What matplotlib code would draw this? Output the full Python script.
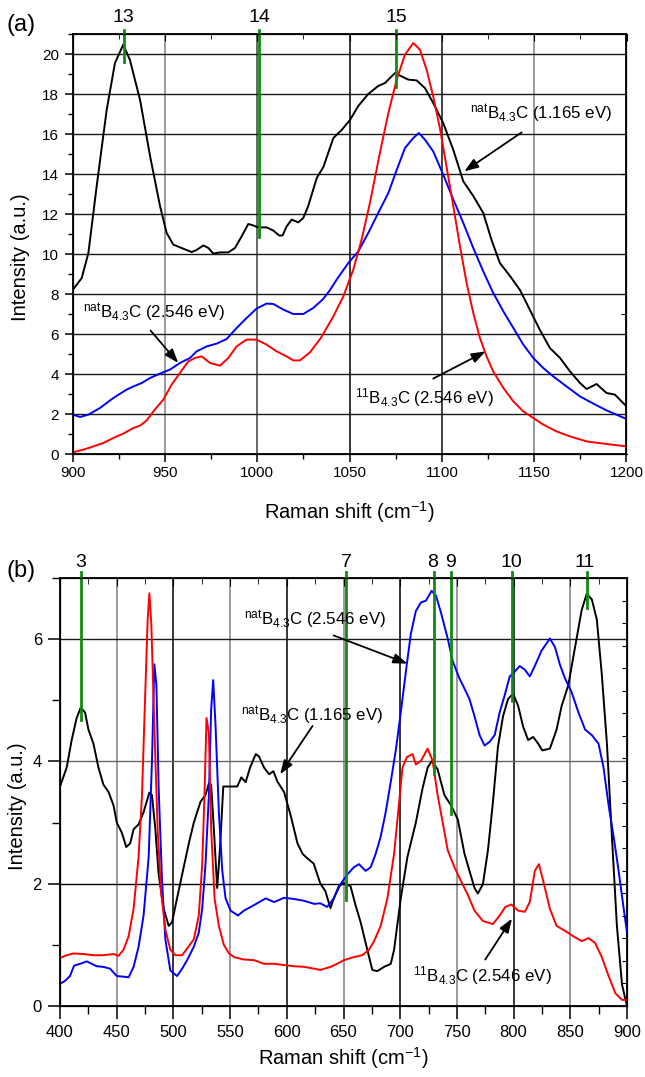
import matplotlib
matplotlib.use("Agg")
import matplotlib.pyplot as plt
from matplotlib.ticker import MultipleLocator, FixedLocator

plt.rcParams['font.family'] = ['Liberation Sans', 'DejaVu Sans']
plt.rcParams['mathtext.fontset'] = 'custom'
plt.rcParams['mathtext.rm'] = 'Liberation Sans'
plt.rcParams['mathtext.it'] = 'Liberation Sans'
plt.rcParams['mathtext.default'] = 'regular'

# ---------------- Panel (a) data ----------------
a_black_x = [900, 904.9, 908.5, 913, 918.4, 922.9, 927.4, 931, 936.5, 941.9, 947.3, 950.9, 954.5, 959,
             964.4, 967.1, 970.8, 973.5, 976.2, 979.8, 984.3, 987.9, 991.5, 995.1, 997.8, 1000.5, 1005,
             1008.7, 1011.9, 1013.7, 1015.9, 1018.6, 1022.2, 1024.9, 1027.6, 1032.2, 1035.8, 1041.2,
             1045.7, 1050.2, 1054.7, 1060.1, 1065.5, 1069.2, 1072.2, 1074.6, 1077.3, 1081.8, 1086.3,
             1090.8, 1095.3, 1100.7, 1106.2, 1111.6, 1117, 1122.4, 1126.9, 1131.4, 1136.9, 1142.3,
             1147.7, 1153.1, 1158.5, 1164, 1169.4, 1174.8, 1178.4, 1183.8, 1189.2, 1193.7, 1200]
a_black_y = [8.2, 8.8, 10.05, 13.4, 17.2, 19.55, 20.47, 19.7, 17.7, 14.9, 12.4, 11.05, 10.47, 10.3,
             10.1, 10.2, 10.43, 10.3, 10.02, 10.08, 10.08, 10.3, 10.88, 11.5, 11.43, 11.33, 11.33,
             11.17, 10.92, 10.93, 11.38, 11.72, 11.58, 11.8, 12.4, 13.8, 14.35, 15.8,
             16.2, 16.7, 17.4, 18.0, 18.4, 18.55, 18.83, 19.05, 18.92, 18.72, 18.68,
             18.3, 17.55, 16.55, 15.2, 13.63, 12.9, 12.05, 10.7, 9.55, 8.9, 8.2,
             7.2, 6.2, 5.3, 4.8, 4.13, 3.55, 3.25, 3.5, 3.05, 2.97, 2.38]

a_blue_x = [900, 904, 908.5, 914.8, 922, 929.2, 932.9, 937.4, 941.9, 947.3, 952.7, 958.1, 963.5, 967.1,
            972.6, 978, 983.4, 988.8, 994.2, 999.6, 1005, 1008.7, 1014.1, 1019.5, 1024.9, 1030.3,
            1035.7, 1039.4, 1043, 1049.3, 1054.7, 1060.1, 1065.5, 1071, 1075.5, 1080, 1084.5,
            1087.5, 1090.8, 1095.3, 1100.7, 1106.2, 1111.6, 1117, 1122.4, 1127.8, 1133.3, 1138.7,
            1144.1, 1149.5, 1154.9, 1160.3, 1167.5, 1174.8, 1182, 1189.2, 1200]
a_blue_y = [1.97, 1.85, 1.97, 2.3, 2.8, 3.22, 3.38, 3.55, 3.8, 4.02, 4.22, 4.55, 4.8, 5.13,
            5.38, 5.52, 5.75, 6.3, 6.8, 7.27, 7.52, 7.5, 7.22, 7.0, 7.0, 7.3,
            7.75, 8.2, 8.72, 9.55, 10.13, 11.05, 12.05, 13.05, 14.2, 15.3, 15.8,
            16.05, 15.72, 15.13, 13.97, 12.72, 11.55, 10.3, 9.13, 8.05, 7.13, 6.3,
            5.47, 4.8, 4.3, 3.88, 3.38, 2.88, 2.52, 2.18, 1.75]

a_red_x = [900, 905.8, 911.2, 916.6, 922, 927.4, 932.9, 936.5, 940.1, 943.7, 949.1, 953.6, 958.1,
           962.6, 966.2, 969.9, 974.4, 979.8, 984.3, 988.8, 994.2, 999.6, 1005, 1010.5, 1015.9,
           1019.5, 1023.1, 1028.5, 1034.4, 1041.2, 1046.6, 1052, 1056.5, 1061, 1066.4, 1071,
           1075.5, 1080, 1084.5, 1088.1, 1091.7, 1095.3, 1098.9, 1102.5, 1106.2, 1109.8, 1113.4,
           1117, 1120.6, 1124.2, 1127.8, 1133.3, 1138.7, 1144.1, 1149.5, 1154.9, 1162.1, 1169.4,
           1178.4, 1189.2, 1200]
a_red_y = [0.08, 0.22, 0.38, 0.55, 0.8, 1.02, 1.3, 1.42, 1.68, 2.13, 2.72, 3.47, 4.05,
           4.63, 4.8, 4.88, 4.55, 4.42, 4.8, 5.38, 5.72, 5.72, 5.47, 5.13, 4.88,
           4.68, 4.68, 5.08, 5.8, 6.88, 7.88, 9.22, 10.72, 12.55, 15.05, 17.05,
           18.72, 19.97, 20.55, 20.22, 19.22, 17.88, 16.3, 14.38, 12.38, 10.38, 8.55,
           7.05, 5.8, 4.88, 4.13, 3.3, 2.63, 2.13, 1.8, 1.47, 1.13, 0.88,
           0.63, 0.5, 0.38]

a_peak_labels = ['13', '14', '15']
a_peak_x = [927.6, 1000.9, 1075.1]
a_peak_low = [19.6, 10.85, 18.35]

# ---------------- Panel (b) data ----------------
b_black_x = [400.6, 405.9, 410.3, 414.7, 418.3, 422.1, 425.1, 429.5, 433.9, 438.3, 442.8, 447.2, 450.1,
             454.6, 458.4, 461.9, 464.9, 469.3, 473.7, 478.8, 481.1, 484.1, 487, 491.4, 495.9, 498.8,
             503.2, 507.7, 513.6, 518, 523.9, 528.3, 531.3, 533.3, 535.7, 538.6, 541, 544, 547.5,
             556.3, 559.9, 563.7, 567.6, 572.6, 575.5, 579.9, 584.4, 588.2, 591.7, 597.6, 603.5,
             609.4, 613.9, 617.8, 623.7, 629.6, 634, 638.5, 641.4, 645.9, 650.3, 656.2, 660.6, 665.1,
             671, 675.4, 679.8, 685.8, 691.7, 694.6, 700.5, 706.4, 713.8, 719.7, 724.2, 728, 733,
             739, 744.9, 750.8, 756.7, 761.1, 765.5, 768.5, 772.9, 777.4, 781.8, 786.2, 790.7, 795.1,
             799.5, 804, 808.4, 812.8, 817.3, 821.7, 825.3, 832, 837.9, 842.4, 848.3, 854.2, 860.1,
             864.5, 869, 873.4, 877.8, 882.3, 886.7, 891.1, 895.6, 900]
b_black_y = [3.62, 3.9, 4.35, 4.71, 4.88, 4.8, 4.52, 4.29, 3.9, 3.62, 3.5, 3.28, 3.0,
             2.83, 2.6, 2.66, 2.89, 2.97, 3.17, 3.49, 3.45, 2.89, 2.15, 1.59, 1.31, 1.37,
             1.76, 2.15, 2.66, 3.0, 3.34, 3.45, 3.64, 3.62, 2.89, 1.93, 2.55, 3.59, 3.59,
             3.59, 3.74, 3.66, 3.9, 4.12, 4.08, 3.9, 3.79, 3.84, 3.67, 3.5, 3.11,
             2.66, 2.49, 2.42, 2.33, 2.0, 1.88, 1.6, 1.76, 1.96, 2.01, 1.96, 1.65, 1.37,
             0.92, 0.59, 0.57, 0.64, 0.69, 0.92, 1.76, 2.44, 3.0, 3.56, 3.9, 4.01, 3.87,
             3.45, 3.28, 3.05, 2.49, 2.21, 1.93, 1.84, 1.99, 2.55, 3.34, 4.24, 4.74, 5.02,
             5.11, 4.91, 4.57, 4.35, 4.4, 4.29, 4.18, 4.21, 4.52, 4.91, 5.25, 5.87, 6.48,
             6.74, 6.65, 6.32, 5.42, 4.29, 2.77, 1.31, 0.35, 0.0]

b_blue_x = [400.6, 404.4, 408.8, 412.4, 417.7, 423.6, 428, 432.4, 438.3, 444.2, 450.1, 456, 460.5,
            464.9, 469.3, 473.7, 478.2, 481.1, 483.2, 485, 487, 490, 492.9, 497.3, 503.2, 507.7,
            512.1, 518, 522.4, 525.4, 528.3, 531.3, 533.3, 535.1, 537.2, 540.1, 543.1, 546, 550.4,
            556.9, 562.2, 571.1, 581.4, 588.8, 597.6, 606.5, 615.3, 624.2, 629.6, 635.5, 641.4,
            647.3, 653.3, 659.2, 663.6, 669.5, 674, 678.4, 682.8, 687.2, 691.7, 696.1, 700.5, 705,
            709.4, 713.8, 718.3, 722.7, 727.7, 731.6, 736, 741.9, 746.3, 752.2, 756.7, 761.1, 765.5,
            770, 774.4, 778.8, 783.3, 787.7, 792.1, 796.6, 801, 805.4, 809.9, 814.3, 818.7, 824.6,
            832, 836.5, 840.9, 845.3, 851.2, 857.2, 863.1, 869, 874.9, 879.3, 883.8, 888.2, 892.6,
            897.1, 900]
b_blue_y = [0.37, 0.41, 0.49, 0.66, 0.69, 0.73, 0.69, 0.65, 0.64, 0.61, 0.49, 0.48, 0.47,
            0.64, 0.97, 1.48, 2.44, 4.01, 5.59, 5.25, 3.56, 2.04, 1.09, 0.58, 0.49, 0.61,
            0.75, 0.97, 1.2, 1.59, 2.32, 3.45, 4.85, 5.33, 4.57, 3.17, 2.21, 1.76, 1.56,
            1.48, 1.56, 1.65, 1.76, 1.7, 1.77, 1.75, 1.72, 1.67, 1.68, 1.62, 1.76,
            1.99, 2.15, 2.27, 2.32, 2.21, 2.27, 2.49, 2.77, 3.17, 3.67, 4.18, 4.8, 5.47,
            6.09, 6.46, 6.6, 6.63, 6.79, 6.71, 6.43, 6.01, 5.64, 5.36, 5.19, 5.02, 4.74,
            4.43, 4.26, 4.32, 4.43, 4.8, 5.08, 5.39, 5.47, 5.56, 5.5, 5.39, 5.56, 5.81,
            6.01, 5.87, 5.58, 5.36, 5.13, 4.8, 4.52, 4.43, 4.29, 3.9, 3.28, 2.77, 2.21,
            1.59, 1.2]

b_red_x = [400.6, 405.9, 411.8, 420.6, 429.5, 438.3, 447.2, 451.6, 456, 460.5, 464.9, 469.3, 472.3,
           475.2, 477.3, 478.8, 480.5, 483.2, 486.1, 489.1, 492.9, 497.3, 501.8, 507.7, 512.1, 518,
           522.4, 525.4, 527.4, 529.2, 531.3, 533.3, 536.3, 540.1, 544.5, 549, 553.4, 562.2, 571.1,
           579.9, 588.8, 597.6, 606.5, 615.3, 624.2, 629.6, 638.5, 644.4, 650.3, 659.2, 666.5,
           672.5, 676.9, 682.8, 688.7, 694.6, 699.1, 702, 705.9, 710.9, 713.8, 718.3, 724.2, 728.6,
           733, 737.5, 741.9, 747.8, 753.7, 759.6, 765.5, 772.9, 781.8, 787.7, 792.7, 798, 804,
           809.9, 814.3, 818.7, 822.3, 826.2, 832, 837.9, 845.3, 852.7, 860.1, 866, 871.9, 877.8,
           883.8, 889.7, 895.6, 900]
b_red_y = [0.79, 0.83, 0.86, 0.85, 0.83, 0.83, 0.85, 0.82, 0.92, 1.14, 1.59, 2.44, 3.45,
           5.13, 6.32, 6.75, 6.26, 4.57, 2.89, 1.87, 1.25, 0.92, 0.83, 0.83, 0.94, 1.09,
           1.48, 2.32, 3.45, 4.71, 4.46, 2.89, 1.76, 1.31, 1.0, 0.86, 0.8, 0.76, 0.75,
           0.69, 0.69, 0.67, 0.65, 0.64, 0.61, 0.59, 0.64, 0.69, 0.75, 0.8, 0.83,
           0.92, 1.06, 1.31, 1.76, 2.49, 3.34, 3.9, 4.07, 4.12, 3.95, 4.01, 4.21, 4.01,
           3.45, 3.0, 2.55, 2.27, 2.04, 1.82, 1.56, 1.39, 1.34, 1.48, 1.62, 1.66, 1.56,
           1.54, 1.7, 2.21, 2.32, 2.04, 1.59, 1.31, 1.23, 1.14, 1.06, 1.11, 1.03, 0.8,
           0.49, 0.21, 0.1, 0.1]

b_peak_labels = ['3', '7', '8', '9', '10', '11']
b_peak_x = [418.3, 652.4, 730.1, 744.6, 798.3, 865.1]
b_peak_low = [4.68, 1.73, 3.79, 3.14, 4.99, 6.51]
b_label_x = [418.3, 652.4, 728.8, 744.3, 797.7, 862.5]

lab_nat_low = r'$^{nat}$B$_{4.3}$C (1.165 eV)'
lab_nat_high = r'$^{nat}$B$_{4.3}$C (2.546 eV)'
lab_11_high = r'$^{11}$B$_{4.3}$C (2.546 eV)'

GREEN = '#138a13'
LW = 1.4

fig = plt.figure(figsize=(6.45, 10.77), dpi=100)
axA = fig.add_axes([72.7/645, 1-454/1077, 553.8/645, 420/1077])
axB = fig.add_axes([60/645, 1-1006/1077, 567/645, 428/1077])

def arrow(ax, tail, head):
    ax.annotate('', xy=head, xytext=tail,
                arrowprops=dict(arrowstyle='-|>,head_length=0.7,head_width=0.25', color='k',
                                lw=1.3, shrinkA=0, shrinkB=0, mutation_scale=12), zorder=6)

# ---------- Panel (a) ----------
ax = axA
ax.set_xlim(900, 1200)
ax.set_ylim(0, 21)
vcols_a = {950: '#808080', 1000: '#404040', 1050: '#000000', 1100: '#111111', 1150: '#808080'}
for xv, c in vcols_a.items():
    ax.axvline(xv, color=c, lw=1.1, zorder=1)
for yv in range(2, 21, 2):
    ax.axhline(yv, color='#1a1a1a', lw=1.0, zorder=1)
ax.plot(a_black_x, a_black_y, color='k', lw=LW, zorder=3)
ax.plot(a_blue_x, a_blue_y, color='#0000ff', lw=LW, zorder=3)
ax.plot(a_red_x, a_red_y, color='#ff0000', lw=LW, zorder=3)
for lab, xv, lo in zip(a_peak_labels, a_peak_x, a_peak_low):
    ax.plot([xv, xv], [21.2, lo], color=GREEN, lw=2.0, zorder=5, clip_on=False)
    ax.text(xv, 21.85, lab, ha='center', va='center', fontsize=14)
ax.text(1115.2, 16.75, lab_nat_low, fontsize=12.2, ha='left', va='baseline', zorder=7)
arrow(ax, (1143.2, 16.08), (1112.1, 14.13))
ax.text(905.8, 6.8, lab_nat_high, fontsize=12.2, ha='left', va='baseline', zorder=7)
arrow(ax, (942.2, 6.17), (957.2, 4.55))
ax.text(1052.9, 2.55, lab_11_high, fontsize=12.2, ha='left', va='baseline', zorder=7)
arrow(ax, (1095.3, 3.77), (1123.7, 5.13))

ax.xaxis.set_major_locator(MultipleLocator(50))
ax.xaxis.set_minor_locator(MultipleLocator(25))
ax.yaxis.set_major_locator(MultipleLocator(2))
ax.yaxis.set_minor_locator(MultipleLocator(1))
ax.tick_params(axis='both', which='major', labelsize=11, length=6, width=1.1, direction='out')
ax.tick_params(axis='both', which='minor', length=3.5, width=1.0, direction='out')
ax.tick_params(axis='x', which='both', pad=2.5, top=False)
ax.tick_params(axis='y', which='both', pad=4)
for sp in ax.spines.values():
    sp.set_linewidth(1.3)
axAr = ax.twinx()
axAr.set_ylim(0, 21)
axAr.yaxis.set_major_locator(FixedLocator([7, 14]))
axAr.tick_params(axis='y', direction='in', length=3.5, labelright=False)
axAt = ax.twiny()
axAt.set_xlim(900, 1200)
axAt.xaxis.set_major_locator(MultipleLocator(50))
axAt.xaxis.set_minor_locator(MultipleLocator(25))
axAt.tick_params(axis='x', which='major', direction='in', length=5, labeltop=False)
axAt.tick_params(axis='x', which='minor', direction='in', length=3.5, labeltop=False)
ax.text(0.5, -0.138, 'Raman shift (cm$^{-1}$)', transform=ax.transAxes, ha='center',
        va='center', fontsize=14.5)
ax.text(-0.0934, 0.468, 'Intensity (a.u.)', transform=ax.transAxes, ha='center',
        va='center', rotation=90, fontsize=14.5)
fig.text(7/645, 1-25/1077, '(a)', ha='left', va='center', fontsize=17)

# ---------- Panel (b) ----------
ax = axB
ax.set_xlim(400, 900)
ax.set_ylim(0, 7)
for xv in range(450, 900, 50):
    c = '#808080' if (xv % 100) == 50 else '#000000'
    ax.axvline(xv, color=c, lw=1.1, zorder=1)
hcols_b = {2: '#000000', 4: '#666666', 6: '#1a1a1a'}
for yv, c in hcols_b.items():
    ax.axhline(yv, color=c, lw=1.0, zorder=1)
ax.plot(b_black_x, b_black_y, color='k', lw=LW, zorder=3)
ax.plot(b_blue_x, b_blue_y, color='#0000ff', lw=LW, zorder=3)
ax.plot(b_red_x, b_red_y, color='#ff0000', lw=LW, zorder=3)
for xv, lo in zip(b_peak_x, b_peak_low):
    ax.plot([xv, xv], [7.1, lo], color=GREEN, lw=2.0, zorder=5, clip_on=False)
for lab, xv in zip(b_peak_labels, b_label_x):
    ax.text(xv, 7.26, lab, ha='center', va='center', fontsize=14)
ax.text(562.2, 6.23, lab_nat_high, fontsize=12.2, ha='left', va='baseline', zorder=7)
arrow(ax, (641.4, 6.06), (706.4, 5.6))
ax.text(559.9, 4.66, lab_nat_low, fontsize=12.2, ha='left', va='baseline', zorder=7)
arrow(ax, (622.7, 4.58), (594.1, 3.79))
ax.text(710.9, 0.41, lab_11_high, fontsize=12.2, ha='left', va='baseline', zorder=7)
arrow(ax, (775.0, 0.76), (798.6, 1.43))

ax.xaxis.set_major_locator(MultipleLocator(50))
ax.xaxis.set_minor_locator(MultipleLocator(25))
ax.yaxis.set_major_locator(MultipleLocator(2))
ax.yaxis.set_minor_locator(MultipleLocator(1))
ax.tick_params(axis='both', which='major', labelsize=12, length=9, width=1.1, direction='out')
ax.tick_params(axis='both', which='minor', length=5.5, width=1.0, direction='out')
ax.tick_params(axis='x', which='both', pad=5)
ax.tick_params(axis='y', which='both', pad=4)
for sp in ax.spines.values():
    sp.set_linewidth(1.3)
axBr = ax.twinx()
axBr.set_ylim(0, 7)
axBr.yaxis.set_major_locator(FixedLocator([k * 7 / 19 for k in range(20)]))
axBr.tick_params(axis='y', direction='in', length=3.5, labelright=False)
axBt = ax.twiny()
axBt.set_xlim(400, 900)
axBt.xaxis.set_major_locator(MultipleLocator(50))
axBt.xaxis.set_minor_locator(MultipleLocator(25))
axBt.tick_params(axis='x', which='major', direction='in', length=6, labeltop=False)
axBt.tick_params(axis='x', which='minor', direction='in', length=4, labeltop=False)
ax.text(0.5, -0.121, 'Raman shift (cm$^{-1}$)', transform=ax.transAxes, ha='center',
        va='center', fontsize=14.5)
ax.text(-0.075, 0.467, 'Intensity (a.u.)', transform=ax.transAxes, ha='center',
        va='center', rotation=90, fontsize=14.5)
fig.text(7/645, 1-571/1077, '(b)', ha='left', va='center', fontsize=17)

fig.savefig('out.png', dpi=100)
